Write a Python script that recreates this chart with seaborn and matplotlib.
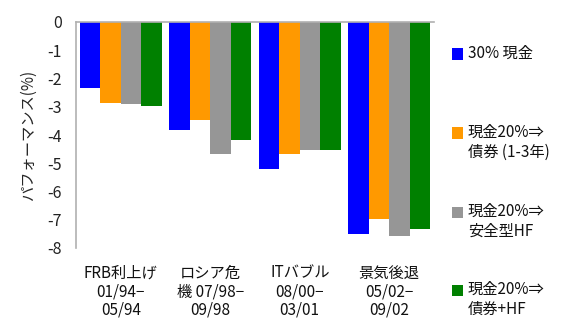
import pandas as pd
import matplotlib
matplotlib.use("Agg")
import matplotlib.pyplot as plt
from matplotlib.patches import Rectangle
import seaborn as sns

periods = ["FRB利上げ\n01/94−\n05/94", "ロシア危\n機 07/98−\n09/98",
           "ITバブル\n08/00−\n03/01", "景気後退\n05/02−\n09/02"]
series = ["30% 現金", "現金20%⇒\n債券 (1-3年)", "現金20%⇒\n安全型HF", "現金20%⇒\n債券+HF"]
cash30 = [-2.34, -3.82, -5.2, -7.5]
bond13 = [-2.87, -3.47, -4.67, -6.97]
safe_hf = [-2.9, -4.67, -4.53, -7.57]
bond_hf = [-2.97, -4.18, -4.53, -7.33]
colors = ["#0000ff", "#ff9900", "#969696", "#008000"]

rows = []
for s, vals in zip(series, [cash30, bond13, safe_hf, bond_hf]):
    for p, v in zip(periods, vals):
        rows.append({"period": p, "series": s, "value": v})
df = pd.DataFrame(rows)

sns.set_style("white")
plt.rcParams['font.family'] = ['Noto Sans CJK JP', 'DejaVu Sans']
plt.rcParams['axes.unicode_minus'] = False

W, H = 566, 324
fig = plt.figure(figsize=(W / 100, H / 100), dpi=100)
ax = fig.add_axes([76 / W, 1 - 248 / H, 358 / W, 226 / H])

sns.barplot(data=df, x="period", y="value", hue="series", palette=colors,
            width=0.92, gap=0, saturation=1, linewidth=0, edgecolor="none",
            legend=False, ax=ax)

ax.set_ylim(-8, 0)
ax.set_xlim(-0.5, 3.5)
ax.set_yticks(range(-8, 1))
ax.tick_params(axis="y", length=0, labelsize=11.5, colors="#222222", pad=10)
ax.tick_params(axis="x", length=0, labelsize=11, colors="#111111", pad=12)
for lbl in ax.get_xticklabels():
    lbl.set_linespacing(1.12)
ax.xaxis.tick_bottom()
ax.set_xlabel("")
ax.set_ylabel("パフォーマンス(%)", fontsize=11, labelpad=8)

for side in ["bottom", "right"]:
    ax.spines[side].set_visible(False)
for side in ["top", "left"]:
    ax.spines[side].set_color("#b0b0b0")
    ax.spines[side].set_linewidth(1.2)

# legend: square key aligned with the first line of each label
key_y = [54, 133, 212, 290]
for s, c, y in zip(series, colors, key_y):
    fig.patches.append(Rectangle((452 / W, 1 - (y + 5.5) / H), 11 / W, 11 / H,
                                 transform=fig.transFigure, facecolor=c,
                                 edgecolor="none"))
    fig.text(468 / W, 1 - (y - 9) / H, s, fontsize=11, color="#111111",
             va="top", ha="left", linespacing=1.2)

fig.savefig("out.png", dpi=100)
